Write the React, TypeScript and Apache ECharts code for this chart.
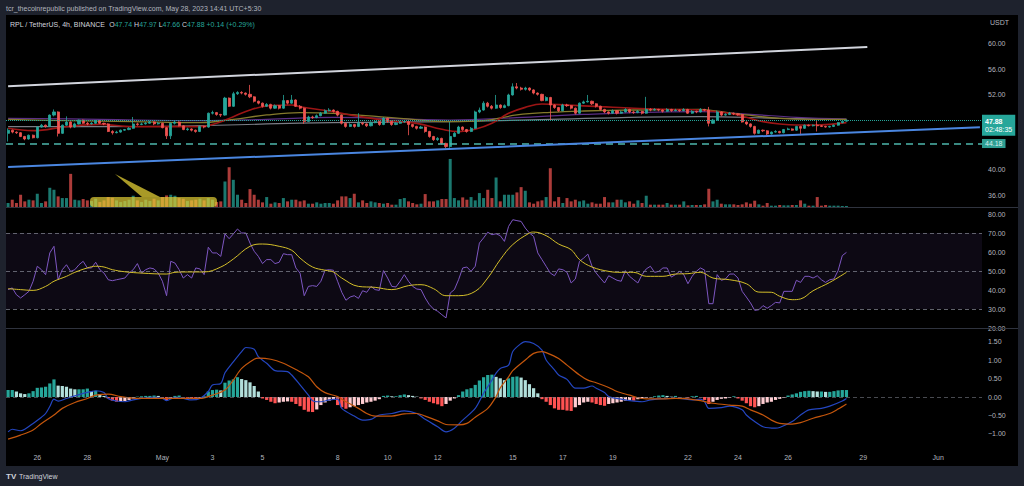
import React, { useEffect, useRef } from "react";
import * as echarts from "echarts";

// ---------- texts ----------
const publishLine = "tcr_thecoinrepublic published on TradingView.com, May 28, 2023 14:41 UTC+5:30";
const symbolTitle = "RPL / TetherUS, 4h, BINANCE";
const quoteCurrency = "USDT";
const countdown = "02:48:35";
const brand = "TradingView";

// ---------- price data (4h candles, open = previous close) ----------
const firstOpen = 45.8;
const closes = [
  46.3, 46.0, 45.9, 45.3, 44.9, 45.5, 45.1, 46.8, 47.1, 46.9,
  48.7, 49.2, 45.8, 47.1, 47.6, 46.8, 47.3, 47.9, 47.4, 47.3,
  47.4, 47.8, 47.4, 47.3, 46.1, 45.9, 46.0, 46.3, 46.4, 46.6,
  47.3, 47.2, 47.3, 47.4, 47.6, 47.3, 47.4, 46.7, 45.4, 47.4,
  47.6, 47.0, 46.4, 46.5, 46.3, 46.1, 46.9, 46.8, 49.0, 49.1,
  48.8, 48.7, 51.4, 50.1, 52.1, 52.3, 52.2, 52.0, 51.6, 50.9,
  50.6, 50.1, 50.4, 49.8, 50.2, 49.8, 51.0, 50.6, 51.1, 50.1,
  49.8, 47.7, 48.4, 48.3, 48.6, 49.0, 49.4, 49.5, 49.3, 48.7,
  47.4, 46.9, 47.2, 46.9, 47.4, 47.3, 47.0, 47.5, 47.7, 47.2,
  48.2, 47.7, 47.2, 47.4, 47.6, 47.7, 47.2, 46.9, 46.6, 46.8,
  46.1, 45.3, 44.8, 45.0, 44.2, 43.7, 45.3, 45.8, 46.8, 46.4,
  46.1, 46.6, 49.2, 49.5, 50.6, 50.1, 49.8, 50.3, 49.9, 50.2,
  51.9, 53.2, 53.0, 52.8, 53.0, 52.7, 52.2, 52.0, 51.0, 51.5,
  50.3, 49.9, 49.4, 50.3, 50.2, 49.8, 49.0, 50.6, 50.8, 50.9,
  50.5, 50.1, 49.6, 49.2, 49.0, 49.4, 49.0, 49.2, 49.6, 49.2,
  49.1, 49.3, 49.0, 49.6, 49.5, 49.6, 49.5, 49.3, 49.6, 49.4,
  49.5, 49.4, 49.6, 49.0, 49.3, 49.2, 49.6, 49.5, 47.4, 47.9,
  49.2, 48.7, 48.8, 49.0, 48.9, 48.8, 47.6, 47.3, 46.9, 45.8,
  46.3, 46.2, 45.7, 46.0, 46.1, 45.9, 46.4, 46.5, 46.3, 46.9,
  46.6, 47.1, 47.0, 47.1, 47.0, 46.9, 46.8, 46.9, 47.1, 47.5,
  47.74, 47.88,
];
const highs = [
  46.6, 46.4, 46.1, 46.0, 45.4, 45.6, 45.6, 46.9, 47.3, 47.2,
  48.8, 49.6, 49.3, 47.2, 48.5, 47.7, 47.5, 48.0, 48.0, 47.6,
  47.6, 47.9, 47.9, 47.5, 47.4, 46.3, 46.2, 46.4, 46.5, 46.8,
  48.4, 47.5, 47.5, 47.6, 47.8, 47.7, 47.6, 47.5, 46.8, 47.5,
  47.9, 47.7, 47.1, 46.7, 46.6, 46.4, 47.0, 47.0, 49.1, 49.4,
  49.2, 48.9, 51.6, 51.5, 52.4, 52.5, 52.5, 52.3, 53.5, 51.7,
  51.0, 50.7, 50.6, 50.5, 50.4, 50.3, 51.9, 51.1, 51.9, 51.2,
  50.3, 49.9, 48.6, 48.6, 48.8, 49.2, 49.6, 49.8, 49.6, 49.4,
  48.8, 47.5, 47.4, 47.3, 49.0, 47.6, 47.4, 47.7, 47.9, 47.8,
  48.4, 48.3, 47.8, 47.6, 47.8, 47.9, 47.8, 47.3, 47.0, 47.0,
  46.9, 46.2, 45.4, 45.2, 45.1, 44.3, 47.6, 46.0, 47.0, 46.9,
  46.5, 46.8, 49.4, 49.9, 50.9, 50.8, 50.3, 51.9, 50.4, 50.4,
  52.1, 53.75, 53.8, 53.2, 53.2, 53.1, 52.8, 52.3, 52.1, 51.7,
  51.6, 50.4, 50.0, 50.5, 50.5, 50.3, 49.9, 50.7, 51.0, 51.9,
  51.0, 50.6, 50.2, 49.7, 49.3, 49.6, 49.5, 49.4, 49.8, 49.7,
  49.4, 49.5, 49.4, 51.6, 49.8, 49.8, 49.7, 49.6, 49.8, 49.7,
  49.7, 49.6, 49.8, 49.7, 49.5, 49.4, 49.8, 49.7, 50.0, 48.1,
  49.4, 49.3, 49.0, 49.2, 49.1, 49.0, 48.9, 47.7, 47.4, 47.0,
  46.4, 46.4, 46.3, 46.1, 46.3, 46.2, 46.5, 46.7, 46.6, 47.0,
  47.0, 47.2, 47.2, 47.2, 47.9, 47.1, 47.0, 47.0, 47.2, 47.6,
  47.8, 47.97,
];
const lows = [
  44.5, 45.8, 45.7, 45.2, 44.7, 44.8, 45.0, 45.0, 46.7, 46.7,
  46.8, 48.5, 45.3, 45.7, 47.0, 46.6, 46.7, 47.2, 47.3, 47.1,
  47.2, 47.3, 47.3, 47.1, 46.0, 45.6, 45.8, 45.9, 46.2, 46.3,
  46.5, 47.0, 47.1, 47.2, 47.3, 47.1, 47.2, 46.6, 44.9, 44.9,
  47.2, 46.9, 46.3, 46.2, 46.1, 45.9, 46.0, 46.6, 46.7, 48.8,
  48.6, 48.4, 48.6, 50.0, 50.0, 51.9, 52.0, 51.8, 51.4, 50.7,
  50.4, 49.9, 50.0, 49.6, 49.7, 49.6, 49.7, 50.4, 50.5, 50.0,
  49.6, 47.3, 47.6, 48.1, 48.2, 48.5, 48.9, 49.3, 49.1, 48.5,
  47.2, 46.7, 46.8, 46.7, 46.8, 47.1, 46.8, 46.9, 47.4, 47.0,
  47.1, 47.5, 47.0, 47.1, 47.3, 47.5, 45.5, 46.7, 46.4, 46.5,
  45.9, 45.1, 44.6, 44.6, 44.0, 43.4, 43.5, 45.2, 45.7, 46.2,
  45.9, 46.0, 46.5, 49.0, 49.4, 49.9, 49.6, 49.7, 49.7, 49.8,
  50.1, 51.8, 52.8, 52.6, 52.6, 52.5, 52.0, 51.8, 50.9, 50.9,
  47.9, 49.7, 49.2, 49.3, 50.0, 49.6, 48.8, 48.9, 50.5, 50.7,
  50.3, 49.9, 49.4, 49.0, 48.8, 48.9, 48.8, 48.9, 49.1, 49.0,
  48.9, 49.0, 48.8, 48.9, 49.3, 49.4, 49.3, 49.1, 49.2, 49.2,
  49.3, 49.2, 49.3, 48.9, 48.9, 49.0, 49.1, 49.3, 46.9, 47.3,
  47.8, 48.5, 48.6, 48.7, 48.7, 48.6, 47.5, 47.1, 46.7, 45.6,
  45.7, 46.0, 45.5, 45.6, 45.9, 45.8, 45.8, 46.3, 46.2, 46.2,
  45.5, 46.5, 46.9, 46.9, 46.1, 46.8, 46.7, 46.7, 46.8, 47.0,
  47.4, 47.66,
];
const volumes = [
  12, 22, 12, 37, 17, 22, 20, 40, 12, 17,
  58, 52, 32, 27, 27, 100, 22, 20, 24, 20,
  18, 25, 15, 20, 30, 28, 20, 15, 18, 22,
  34, 20, 15, 22, 18, 25, 20, 30, 35, 37,
  34, 27, 25, 18, 20, 22, 25, 20, 27, 22,
  15, 17, 77, 120, 82, 37, 22, 12, 54, 37,
  22, 14, 30, 10, 14, 12, 27, 17, 22, 22,
  17, 20, 10, 10, 14, 10, 12, 12, 10, 20,
  32, 32, 27, 40, 14, 20, 12, 17, 14, 12,
  10, 12, 7, 7, 24, 27, 17, 12, 8, 10,
  39, 17, 17, 20, 24, 24, 145, 27, 20, 29,
  22, 30, 20, 42, 27, 52, 27, 89, 17, 37,
  37, 37, 44, 60, 49, 14, 10, 17, 20, 30,
  117, 17, 30, 12, 27, 17, 22, 17, 20, 10,
  14, 10, 10, 30, 14, 14, 22, 22, 14, 17,
  10, 20, 12, 34, 7, 7, 7, 7, 12, 7,
  7, 7, 17, 5, 6, 6, 6, 8, 55, 17,
  22, 10, 8, 8, 8, 6, 8, 14, 10, 19,
  8, 4, 12, 4, 4, 6, 5, 5, 6, 6,
  20, 10, 4, 4, 30, 4, 6, 4, 4, 4,
  3, 3,
];

// moving averages on price, [candle index, value]
const maRed = [[0,46.6],[6,46.23],[14,46.86],[22,47.23],[30,46.86],[38,46.86],[46,46.86],[50,47.39],[54,48.45],[58,49.51],[62,50.15],[68,50.3],[70,50.04],[74,49.62],[78,49.25],[82,48.72],[90,47.92],[98,47.39],[104,46.44],[108,46.07],[112,46.44],[116,47.39],[120,48.98],[124,49.93],[128,50.46],[134,50.3],[142,50.04],[150,49.78],[158,49.62],[166,49.51],[168,49.35],[173,48.98],[177,48.35],[181,47.66],[185,47.29],[189,47.13],[193,47.13],[197,47.23],[201,47.5]];
const maOlive = [[0,48.03],[14,47.81],[30,47.66],[46,47.5],[54,48.03],[62,48.72],[70,49.09],[78,48.98],[94,48.19],[106,47.66],[114,47.81],[122,48.72],[130,49.14],[138,49.35],[150,49.51],[166,49.62],[169,49.41],[177,48.72],[185,48.19],[193,48.03],[201,48.03]];
const maPurple = [[0,48.19],[22,48.03],[46,47.81],[62,48.03],[78,48.35],[106,47.92],[122,48.29],[138,48.82],[166,49.25],[177,48.87],[189,48.35],[201,48.08]];
const maGrey = [[0,46.86],[22,46.86],[46,47.02],[62,47.29],[78,47.5],[106,47.66],[130,48.03],[166,48.45],[185,48.19],[201,48.03]];

// drawn trend lines [slot index, price]
const upperTrend = [[0, 53.3], [206, 59.52]];
const lowerTrend = [[0, 40.46], [233, 46.76]];
const supportLevel = 44.18;

// RSI and its moving average
const rsiLine = [[0,40.2],[1,41.1],[2,37.5],[3,35.8],[4,37.5],[5,39.3],[6,44.6],[7,52.5],[8,50.7],[9,48.1],[10,59.5],[11,63.0],[12,45.4],[13,50.7],[14,53.3],[15,49.8],[16,50.7],[17,53.3],[18,55.1],[19,51.6],[20,51.6],[21,54.6],[22,50.7],[23,48.9],[24,45.4],[25,44.9],[26,45.4],[28,46.3],[29,48.9],[30,50.7],[31,53.9],[32,48.9],[33,50.7],[34,51.6],[35,51.1],[36,48.9],[37,44.6],[38,37.0],[39,55.1],[40,54.2],[41,50.7],[42,46.3],[43,48.1],[44,46.3],[45,51.6],[46,51.1],[47,48.1],[48,62.5],[49,59.5],[50,59.5],[51,57.7],[52,69.5],[53,67.0],[54,69.5],[55,72.1],[56,70.0],[57,70.0],[58,64.7],[59,60.4],[60,57.7],[61,53.9],[62,56.0],[63,56.0],[64,53.9],[65,54.6],[66,59.1],[67,58.6],[68,58.6],[69,51.6],[70,48.9],[71,37.0],[72,41.9],[73,42.3],[74,41.9],[75,44.6],[76,50.4],[77,50.7],[78,50.4],[79,44.6],[80,38.8],[81,34.6],[82,36.3],[83,37.0],[84,35.6],[85,39.6],[86,38.8],[87,41.9],[88,40.2],[89,39.8],[90,50.2],[91,46.3],[92,41.9],[93,41.6],[94,44.6],[95,48.1],[96,44.6],[97,41.9],[98,40.5],[99,40.2],[100,35.8],[101,32.3],[102,30.0],[103,28.8],[104,27.0],[105,25.3],[106,38.4],[107,40.2],[108,45.4],[109,51.6],[110,52.1],[111,49.8],[112,52.5],[113,64.7],[114,67.4],[115,70.4],[116,69.1],[117,69.6],[118,68.6],[119,65.6],[120,73.5],[121,77.0],[122,76.5],[123,76.1],[124,72.6],[125,70.0],[126,68.2],[127,59.5],[128,56.0],[129,52.5],[130,48.9],[131,47.5],[132,51.1],[133,50.7],[134,49.3],[135,43.7],[136,45.8],[137,55.1],[138,56.8],[139,58.9],[140,52.5],[141,48.9],[142,46.3],[143,43.7],[144,47.5],[145,46.3],[146,45.1],[147,44.6],[148,50.2],[149,47.2],[150,45.4],[151,43.7],[152,48.1],[153,51.1],[154,52.5],[155,49.3],[156,49.8],[157,51.6],[158,51.6],[159,46.8],[160,48.1],[161,49.8],[162,48.1],[163,43.3],[164,47.2],[165,49.8],[166,51.6],[167,50.5],[168,32.8],[169,32.8],[170,48.1],[171,45.1],[172,45.8],[173,48.4],[174,48.4],[175,46.3],[176,39.3],[177,36.3],[178,33.2],[179,29.3],[180,29.6],[181,31.8],[182,30.4],[183,31.8],[184,33.5],[185,33.2],[186,39.3],[187,39.3],[188,39.3],[189,45.1],[190,44.0],[191,47.2],[192,47.2],[193,46.3],[194,47.5],[195,45.4],[196,44.0],[197,45.4],[198,45.8],[199,50.2],[200,58.1],[201,59.8]];
const rsiAverage = [[0,40.7],[3,40.2],[6,39.8],[9,41.9],[11,44.6],[14,47.2],[16,49.3],[19,51.6],[21,52.5],[23,52.1],[25,50.7],[28,49.6],[32,48.9],[38,48.4],[40,49.3],[43,49.5],[47,49.5],[51,52.1],[54,56.3],[58,63.0],[61,64.2],[65,63.0],[68,60.9],[70,56.8],[73,52.1],[76,50.4],[78,49.5],[80,46.3],[84,41.9],[88,41.4],[92,40.2],[96,42.3],[99,42.8],[102,40.7],[105,37.0],[108,37.0],[112,39.3],[115,46.3],[118,56.0],[121,63.9],[125,70.0],[126,70.5],[129,68.6],[132,64.2],[135,61.2],[137,56.0],[140,52.1],[144,49.8],[147,49.3],[150,49.3],[153,47.2],[157,47.2],[160,48.4],[163,48.6],[166,49.3],[169,46.3],[173,45.4],[177,43.3],[180,38.9],[183,38.8],[185,36.7],[188,34.9],[190,35.3],[193,39.6],[197,44.0],[201,49.3]];

// MACD
const macdHist = [
  0.19, 0.19, 0.15, 0.10, 0.08, 0.10, 0.16, 0.25, 0.26, 0.28,
  0.37, 0.48, 0.31, 0.30, 0.28, 0.23, 0.21, 0.21, 0.21, 0.23,
  0.16, 0.17, 0.08, 0.03, -0.04, -0.10, -0.13, -0.12, -0.11, -0.08,
  -0.04, 0.01, 0.02, 0.03, 0.03, 0.04, 0.03, -0.02, -0.08, -0.02,
  0.03, 0.04, -0.01, -0.02, -0.03, -0.04, -0.02, 0.02, 0.15, 0.19,
  0.20, 0.18, 0.39, 0.45, 0.48, 0.54, 0.49, 0.46, 0.40, 0.30,
  0.15, -0.04, -0.08, -0.13, -0.17, -0.15, -0.13, -0.12, -0.13, -0.19,
  -0.25, -0.35, -0.40, -0.41, -0.34, -0.22, -0.15, -0.10, -0.08, -0.22,
  -0.28, -0.32, -0.28, -0.25, -0.22, -0.19, -0.15, -0.13, -0.10, -0.06,
  0.03, 0.04, 0.02, 0.02, 0.05, 0.07, 0.05, 0.03, 0.01, -0.04,
  -0.08, -0.13, -0.17, -0.20, -0.25, -0.19, -0.10, -0.04, 0.05, 0.15,
  0.21, 0.24, 0.33, 0.45, 0.54, 0.60, 0.61, 0.55, 0.51, 0.46,
  0.51, 0.55, 0.56, 0.53, 0.46, 0.35, 0.24, 0.10, -0.06, -0.13,
  -0.22, -0.31, -0.35, -0.35, -0.37, -0.38, -0.28, -0.22, -0.15, -0.13,
  -0.15, -0.19, -0.22, -0.24, -0.19, -0.17, -0.15, -0.13, -0.10, -0.08,
  -0.10, -0.06, -0.04, -0.02, -0.01, 0.02, 0.04, 0.05, 0.03, 0.01,
  0.03, -0.01, -0.005, -0.02, 0.02, 0.03, -0.01, -0.08, -0.19, -0.13,
  -0.08, -0.05, -0.04, -0.02, 0.02, -0.04, -0.10, -0.17, -0.25, -0.28,
  -0.25, -0.19, -0.15, -0.13, -0.08, -0.05, -0.02, 0.04, 0.07, 0.10,
  0.14, 0.16, 0.17, 0.16, 0.15, 0.15, 0.14, 0.14, 0.16, 0.18,
  0.19, 0.19,
];
const macdLine = [[0,-0.95],[1,-0.88],[3,-0.92],[4,-0.88],[6,-0.72],[8,-0.55],[9,-0.45],[10,-0.26],[11,-0.06],[12,-0.11],[14,-0.04],[16,0.03],[18,0.10],[20,0.15],[21,0.17],[23,0.12],[24,-0.04],[26,-0.11],[28,-0.13],[30,-0.08],[32,-0.04],[35,-0.01],[37,-0.04],[38,-0.10],[40,-0.01],[42,-0.04],[44,-0.08],[46,-0.04],[48,0.15],[49,0.33],[51,0.37],[52,0.66],[54,0.96],[56,1.24],[57,1.35],[59,1.30],[60,1.10],[62,0.92],[64,0.72],[67,0.69],[68,0.60],[70,0.33],[72,0.05],[73,-0.10],[75,-0.13],[77,-0.08],[79,-0.06],[80,-0.31],[83,-0.52],[85,-0.63],[87,-0.61],[89,-0.49],[92,-0.45],[95,-0.38],[98,-0.45],[100,-0.61],[103,-0.81],[105,-0.95],[107,-0.85],[109,-0.63],[112,-0.31],[114,0.10],[116,0.46],[117,0.65],[118,0.78],[120,0.87],[121,1.24],[123,1.46],[124,1.51],[126,1.46],[128,1.28],[129,1.01],[131,0.74],[132,0.60],[134,0.48],[136,0.24],[138,0.24],[140,0.30],[141,0.24],[143,0.12],[144,0.01],[147,-0.06],[149,-0.10],[152,-0.13],[154,-0.08],[156,-0.05],[159,-0.04],[161,-0.04],[164,-0.08],[166,-0.06],[167,-0.13],[168,-0.31],[171,-0.29],[173,-0.25],[176,-0.35],[177,-0.49],[179,-0.67],[181,-0.81],[184,-0.85],[185,-0.83],[188,-0.67],[190,-0.49],[192,-0.35],[195,-0.31],[197,-0.25],[200,-0.11],[201,-0.04]];
const signalLine = [[0,-1.15],[3,-1.04],[6,-0.90],[8,-0.72],[11,-0.49],[13,-0.31],[16,-0.15],[19,-0.04],[21,0.05],[24,0.08],[27,0.01],[30,-0.03],[34,-0.04],[38,-0.04],[43,-0.04],[46,-0.04],[49,0.05],[52,0.19],[54,0.46],[56,0.78],[59,1.03],[60,1.06],[63,1.03],[66,0.92],[69,0.75],[72,0.55],[74,0.28],[76,0.12],[79,0.01],[81,-0.13],[84,-0.31],[86,-0.45],[88,-0.52],[92,-0.52],[95,-0.46],[98,-0.45],[100,-0.52],[103,-0.65],[105,-0.75],[108,-0.76],[110,-0.72],[112,-0.55],[115,-0.31],[117,0.01],[118,0.25],[120,0.55],[121,0.72],[124,1.01],[126,1.19],[128,1.24],[129,1.21],[132,1.05],[134,0.87],[137,0.60],[139,0.46],[141,0.39],[144,0.26],[146,0.15],[149,0.05],[151,-0.02],[153,-0.05],[157,-0.05],[160,-0.04],[163,-0.05],[166,-0.10],[169,-0.17],[173,-0.22],[176,-0.25],[178,-0.35],[181,-0.49],[183,-0.63],[185,-0.72],[188,-0.74],[190,-0.70],[193,-0.58],[197,-0.45],[199,-0.33],[201,-0.19]];

// axis definitions
const totalSlots = 234;
const firstDaySlot = 7; // first 4h bar of Apr 26
const axisDates = ["Apr 26", "Apr 28", "May 1", "May 3", "May 5", "May 8", "May 10", "May 12", "May 15", "May 17", "May 19", "May 22", "May 24", "May 26", "May 29", "Jun 1"];
const priceTicks = [36, 40, 52, 56, 60];
const rsiTicks = [20, 30, 40, 50, 60, 70, 80];
const macdTicks = [-1, -0.5, 0, 0.5, 1, 1.5];

const MONTHS = ["Jan", "Feb", "Mar", "Apr", "May", "Jun", "Jul", "Aug", "Sep", "Oct", "Nov", "Dec"];
const FONT = "Liberation Sans";
const UP = "#26a69a";
const DOWN = "#ef5350";
const AXIS_TEXT = "#b2b5be";

function buildOption() {
  const opens = closes.map((c, i) => (i === 0 ? firstOpen : closes[i - 1]));
  const categories: string[] = [];
  const dayLabel: string[] = [];
  for (let s = 0; s < totalSlots; s++) {
    categories.push(String(s));
    const k = s - firstDaySlot;
    if (k % 6 === 0) {
      const d = new Date(2023, 3, 26 + k / 6);
      dayLabel.push(MONTHS[d.getMonth()] + " " + d.getDate());
    } else dayLabel.push("");
  }
  const shown = new Set(axisDates);
  const candles = closes.map((c, i) => [opens[i], c, lows[i], highs[i]]);
  const vol = volumes.map((v, i) => ({
    value: v,
    itemStyle: { color: closes[i] >= opens[i] ? "rgba(38,166,154,0.72)" : "rgba(239,83,80,0.72)" },
  }));
  const hist = macdHist.map((v, i) => {
    const prev = i === 0 ? v : macdHist[i - 1];
    let color;
    if (v >= 0) color = v >= prev ? "#26a69a" : "#b2dfdb";
    else color = v <= prev ? "#ff5252" : "#ffcdd2";
    return { value: v, itemStyle: { color } };
  });

  const n = closes.length - 1;
  const last = closes[n];
  const chg = last - closes[n - 1];
  const chgPct = (chg / closes[n - 1]) * 100;
  const sign = chg >= 0 ? "+" : "−";
  const legendText =
    `{n|${symbolTitle}}  {k|O}{v|${opens[n].toFixed(2)}} {k|H}{v|${highs[n].toFixed(2)}} ` +
    `{k|L}{v|${lows[n].toFixed(2)}} {k|C}{v|${last.toFixed(2)}} {v|${sign}${Math.abs(chg).toFixed(2)} (${sign}${Math.abs(chgPct).toFixed(2)}%)}`;

  const fmt = (v: number) => (v < 0 ? "−" + Math.abs(v).toFixed(2) : v.toFixed(2));

  const hiddenX = (grid: number) => ({
    type: "category", gridIndex: grid, data: categories, boundaryGap: true, show: false,
  });
  const rightY = (grid: number, min: number, max: number, ticks: number[]) => ({
    type: "value", gridIndex: grid, position: "right", min, max, scale: true,
    axisLine: { show: false }, axisTick: { show: false }, splitLine: { show: false },
    axisLabel: { customValues: ticks, formatter: fmt, color: AXIS_TEXT, fontSize: 7, margin: 6, fontFamily: FONT },
  });
  const maSeries = (data: number[][], color: string, width: number) => ({
    type: "line", xAxisIndex: 0, yAxisIndex: 0, data, smooth: 0.4, symbol: "none",
    lineStyle: { color, width }, z: 3, silent: true,
  });

  return {
    animation: false,
    backgroundColor: "#1e222d",
    textStyle: { fontFamily: FONT },
    grid: [
      { left: 6, top: 15, width: 976, height: 192, outerBoundsMode: "none" },
      { left: 6, top: 150, width: 976, height: 57, outerBoundsMode: "none" },
      { left: 6, top: 208, width: 976, height: 120, outerBoundsMode: "none" },
      { left: 6, top: 329, width: 976, height: 118, outerBoundsMode: "none" },
    ],
    xAxis: [
      hiddenX(0),
      hiddenX(1),
      hiddenX(2),
      {
        type: "category", gridIndex: 3, data: categories, boundaryGap: true,
        axisLine: { show: false }, axisTick: { show: false }, splitLine: { show: false },
        axisLabel: {
          interval: (idx: number) => shown.has(dayLabel[idx]),
          formatter: (_v: string, idx: number) => {
            const parts = dayLabel[idx].split(" ");
            return parts[1] === "1" ? parts[0] : parts[1];
          },
          color: AXIS_TEXT, fontSize: 7, margin: 7, fontFamily: FONT,
        },
      },
    ],
    yAxis: [
      rightY(0, 34.093, 64.609, priceTicks),
      { type: "value", gridIndex: 1, min: 0, max: 172, show: false },
      rightY(2, 20, 83.16, rsiTicks),
      rightY(3, -1.3636, 1.8545, macdTicks),
    ],
    graphic: [
      { type: "rect", shape: { x: 6, y: 15, width: 1012, height: 451 }, style: { fill: "#000000" }, z: -100, silent: true },
      { type: "line", shape: { x1: 6, y1: 207.5, x2: 1018, y2: 207.5 }, style: { stroke: "#2f333e", lineWidth: 1 }, z: 50, silent: true },
      { type: "line", shape: { x1: 6, y1: 328.5, x2: 1018, y2: 328.5 }, style: { stroke: "#2f333e", lineWidth: 1 }, z: 50, silent: true },
      { type: "text", style: { x: 6, y: 8, text: publishLine, fill: "#b2b5be", fontSize: 7, fontFamily: FONT, verticalAlign: "middle" }, silent: true },
      {
        type: "text", silent: true,
        style: {
          x: 10, y: 24, text: legendText, verticalAlign: "middle", fontSize: 7, fontFamily: FONT,
          rich: {
            n: { fill: "#d1d4dc", fontSize: 7, fontFamily: FONT },
            k: { fill: "#d1d4dc", fontSize: 7, fontFamily: FONT },
            v: { fill: UP, fontSize: 7, fontFamily: FONT },
          },
        },
      },
      { type: "text", style: { x: 990, y: 22, text: quoteCurrency, fill: AXIS_TEXT, fontSize: 7, fontFamily: FONT, verticalAlign: "middle" }, silent: true },
      { type: "polygon", shape: { points: [[115, 174], [142, 197], [160, 197]] }, style: { fill: "rgba(226,206,52,0.75)" }, z: 20, silent: true },
      { type: "rect", shape: { x: 90, y: 197, width: 127, height: 10, r: 4 }, style: { fill: "rgba(226,206,52,0.7)" }, z: 20, silent: true },
      { type: "text", style: { x: 6, y: 476, text: "TV", fill: "#d1d4dc", fontSize: 8, fontWeight: "bold", fontFamily: FONT, verticalAlign: "middle" }, silent: true },
      { type: "text", style: { x: 19, y: 476, text: brand, fill: "#d1d4dc", fontSize: 7, fontFamily: FONT, verticalAlign: "middle" }, silent: true },
    ],
    series: [
      {
        type: "candlestick", xAxisIndex: 0, yAxisIndex: 0, data: candles, barWidth: 2.6, z: 4,
        itemStyle: { color: UP, color0: DOWN, borderColor: UP, borderColor0: DOWN, borderWidth: 0.8 },
        markLine: {
          symbol: ["none", "none"], silent: true, animation: false,
          data: [
            {
              yAxis: last,
              lineStyle: { color: UP, type: "dotted", width: 1 },
              label: {
                show: true, position: "end", distance: 0, offset: [0, 5],
                formatter: `{p|${last.toFixed(2)}}\n{t|${countdown}}`,
                backgroundColor: UP, padding: [2, 3, 2, 3],
                rich: {
                  p: { color: "#ffffff", fontSize: 7, fontWeight: "bold", fontFamily: FONT, lineHeight: 9 },
                  t: { color: "#ffffff", fontSize: 7, fontFamily: FONT, lineHeight: 8 },
                },
              },
            },
            {
              yAxis: supportLevel,
              lineStyle: { color: "#4db6ac", type: [7, 5], width: 1.5 },
              label: {
                show: true, position: "end", distance: 0, formatter: supportLevel.toFixed(2),
                backgroundColor: "#2e9e92", color: "#d8f0ed", padding: [1, 3, 1, 3], fontSize: 7, fontFamily: FONT,
              },
            },
          ],
        },
      },
      maSeries(maGrey, "#7a7d85", 1.2),
      maSeries(maPurple, "#5b2f86", 1.2),
      maSeries(maOlive, "#857a2c", 1.3),
      maSeries(maRed, "#9c1515", 1.6),
      {
        type: "line", xAxisIndex: 0, yAxisIndex: 0, data: upperTrend, symbol: "none", silent: true,
        lineStyle: { color: "#d1d4dc", width: 2 }, z: 5,
      },
      {
        type: "line", xAxisIndex: 0, yAxisIndex: 0, data: lowerTrend, symbol: "none", silent: true,
        lineStyle: { color: "#4a86e0", width: 2 }, z: 5,
      },
      {
        type: "bar", xAxisIndex: 1, yAxisIndex: 1, data: vol, barWidth: 3, z: 2, silent: true,
      },
      {
        type: "line", xAxisIndex: 2, yAxisIndex: 2, data: rsiLine, symbol: "none", silent: true,
        lineStyle: { color: "#7e57c2", width: 1 }, z: 4,
        markArea: { silent: true, itemStyle: { color: "rgba(126,87,194,0.1)" }, data: [[{ yAxis: 70 }, { yAxis: 30 }]] },
        markLine: {
          symbol: ["none", "none"], silent: true, label: { show: false },
          lineStyle: { color: "#787b86", type: [4, 3], width: 1, opacity: 0.8 },
          data: [{ yAxis: 70 }, { yAxis: 50 }, { yAxis: 30 }],
        },
      },
      {
        type: "line", xAxisIndex: 2, yAxisIndex: 2, data: rsiAverage, symbol: "none", smooth: 0.4, silent: true,
        lineStyle: { color: "#d4bf2a", width: 1 }, z: 5,
      },
      {
        type: "bar", xAxisIndex: 3, yAxisIndex: 3, data: hist, barWidth: 3.2, z: 2, silent: true,
        markLine: {
          symbol: ["none", "none"], silent: true, label: { show: false },
          lineStyle: { color: "#787b86", type: [4, 3], width: 1, opacity: 0.6 },
          data: [{ yAxis: 0 }],
        },
      },
      {
        type: "line", xAxisIndex: 3, yAxisIndex: 3, data: macdLine, symbol: "none", smooth: 0.3, silent: true,
        lineStyle: { color: "#2446c0", width: 1.2 }, z: 4,
      },
      {
        type: "line", xAxisIndex: 3, yAxisIndex: 3, data: signalLine, symbol: "none", smooth: 0.3, silent: true,
        lineStyle: { color: "#c4560c", width: 1.2 }, z: 4,
      },
    ],
  };
}

export default function App() {
  const ref = useRef<HTMLDivElement>(null);
  useEffect(() => {
    if (!ref.current) return;
    const chart = echarts.init(ref.current, null, { renderer: "svg" });
    chart.setOption(buildOption() as any);
    return () => chart.dispose();
  }, []);
  return (
    <div
      ref={ref}
      style={{ position: "fixed", left: 0, top: 0, width: 1024, height: 486 }}
    />
  );
}
